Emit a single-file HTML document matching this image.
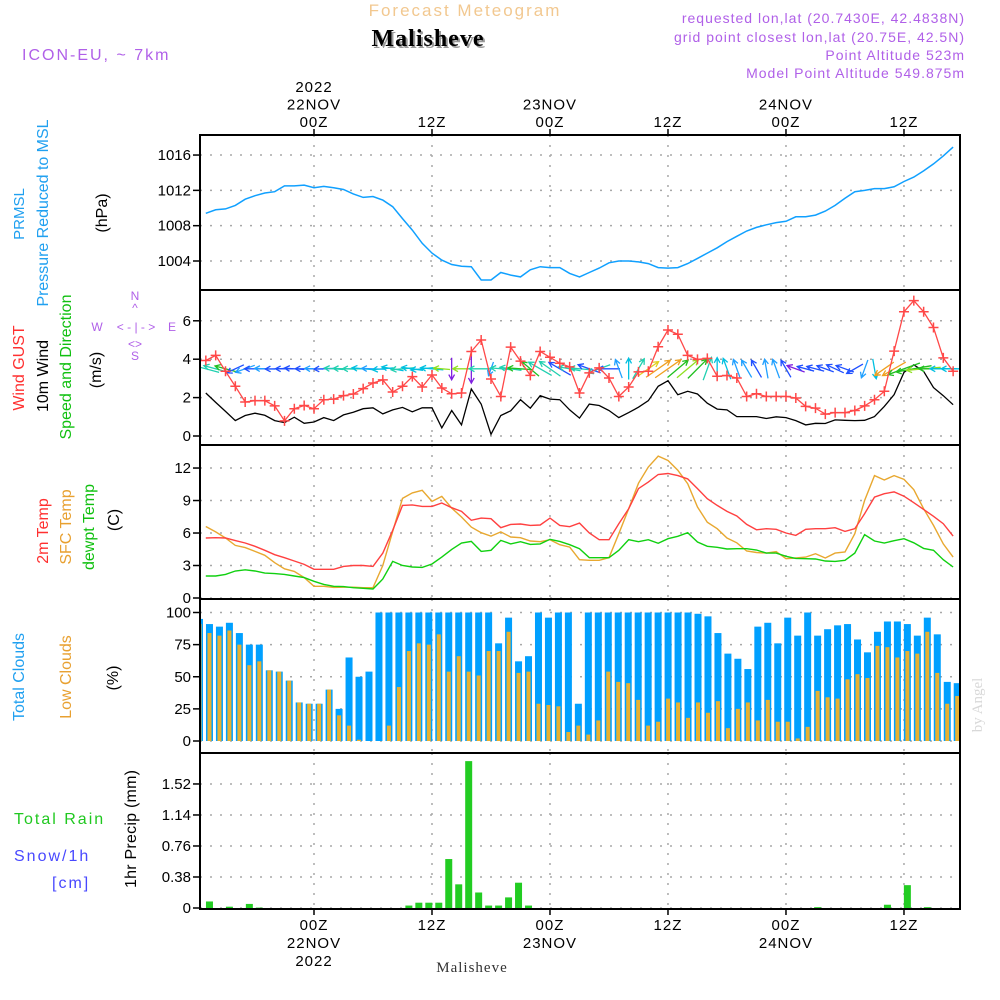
<!DOCTYPE html>
<html><head><meta charset="utf-8"><title>Meteogram Malisheve</title>
<style>
html,body{margin:0;padding:0;background:#fff;}
svg{display:block;font-family:"Liberation Sans",sans-serif;}
.t{font-size:15px;letter-spacing:1px;}
.tk{font-size:15px;fill:#000;}
</style></head>
<body>
<svg id="chart" width="1000" height="1000" viewBox="0 0 1000 1000" xmlns="http://www.w3.org/2000/svg">
<defs>
<clipPath id="clipP"><rect x="200" y="135" width="760" height="774"/></clipPath>
</defs>
<text x="465" y="16" text-anchor="middle" fill="#f2c890" font-size="17" letter-spacing="2">Forecast Meteogram</text>
<text x="430" y="48" text-anchor="middle" fill="#9a9a9a" font-family="Liberation Serif,serif" font-weight="bold" font-size="24" letter-spacing="1">Malisheve</text>
<text x="428" y="46" text-anchor="middle" fill="#000" font-family="Liberation Serif,serif" font-weight="bold" font-size="24" letter-spacing="1">Malisheve</text>
<text x="22" y="60" fill="#b060e8" font-size="16" letter-spacing="2">ICON-EU, ~ 7km</text>
<g fill="#b060e8" font-size="14" letter-spacing="1" text-anchor="end">
<text x="965" y="23">requested lon,lat (20.7430E, 42.4838N)</text>
<text x="965" y="42">grid point closest lon,lat (20.75E, 42.5N)</text>
<text x="965" y="60">Point Altitude 523m</text>
<text x="965" y="78">Model Point Altitude 549.875m</text>
</g>
<g font-size="16">
<text transform="translate(24,214) rotate(-90)" text-anchor="middle" fill="#20a0f0" font-size="15">PRMSL</text>
<text transform="translate(48,213) rotate(-90)" text-anchor="middle" fill="#20a0f0" textLength="187">Pressure Reduced to MSL</text>
<text transform="translate(107,213) rotate(-90)" text-anchor="middle" fill="#000">(hPa)</text>
<text transform="translate(24,368) rotate(-90)" text-anchor="middle" fill="#ff3030">Wind GUST</text>
<text transform="translate(48,376) rotate(-90)" text-anchor="middle" fill="#000">10m Wind</text>
<text transform="translate(71,367) rotate(-90)" text-anchor="middle" fill="#10c010" textLength="145">Speed and Direction</text>
<text transform="translate(101,370) rotate(-90)" text-anchor="middle" fill="#000">(m/s)</text>
<text transform="translate(48,531) rotate(-90)" text-anchor="middle" fill="#ff3030">2m Temp</text>
<text transform="translate(71,527) rotate(-90)" text-anchor="middle" fill="#e8a030">SFC Temp</text>
<text transform="translate(94,527) rotate(-90)" text-anchor="middle" fill="#10c010">dewpt Temp</text>
<text transform="translate(119,520) rotate(-90)" text-anchor="middle" fill="#000">(C)</text>
<text transform="translate(24,677) rotate(-90)" text-anchor="middle" fill="#20a0f0">Total Clouds</text>
<text transform="translate(71,677) rotate(-90)" text-anchor="middle" fill="#e8a030">Low Clouds</text>
<text transform="translate(118,678) rotate(-90)" text-anchor="middle" fill="#000">(%)</text>
<text transform="translate(136,829) rotate(-90)" text-anchor="middle" fill="#000" textLength="118">1hr Precip (mm)</text>
<text x="14" y="824" fill="#20c820" letter-spacing="2">Total   Rain</text>
<text x="14" y="861" fill="#4848ff" letter-spacing="2">Snow/1h</text>
<text x="52" y="888" fill="#4848ff" letter-spacing="2">[cm]</text>
</g>
<g fill="#b060e8" font-size="12" text-anchor="middle">
<text x="135" y="300">N</text><text x="135" y="312">^</text>
<text x="97" y="331">W</text><text x="136" y="331">&lt; - | - &gt;</text><text x="172" y="331">E</text>
<text x="135" y="348">&lt;&gt;</text><text x="135" y="360">S</text>
</g>
<text transform="translate(982,705) rotate(-90)" text-anchor="middle" fill="#d8d8d8" font-family="Liberation Serif,serif" font-size="15">by Angel</text>
<text x="472" y="972" text-anchor="middle" fill="#333" font-family="Liberation Serif,serif" font-size="15" letter-spacing="1">Malisheve</text>
<g id="plot"></g>
</svg>
<script>
const startHour = -11;
const pressure = [1009.4,1009.8,1009.9,1010.3,1011.0,1011.4,1011.7,1011.85,1012.5,1012.5,1012.6,1012.3,1012.45,1012.3,1012.1,1011.6,1011.2,1011.3,1010.9,1010.15,1008.8,1007.5,1006.0,1004.9,1004.1,1003.6,1003.4,1003.35,1001.85,1001.85,1002.7,1002.4,1002.2,1003.0,1003.35,1003.25,1003.25,1002.6,1002.2,1002.7,1003.2,1003.8,1004.0,1004.0,1003.9,1003.7,1003.25,1003.2,1003.25,1003.7,1004.3,1004.9,1005.5,1006.2,1006.8,1007.4,1007.8,1008.1,1008.35,1008.5,1009.0,1009.0,1009.2,1009.65,1010.3,1011.1,1011.85,1012.0,1012.2,1012.2,1012.4,1013.0,1013.5,1014.2,1015.0,1015.9,1016.9];
const gust = [3.93,4.2,3.37,2.59,1.77,1.84,1.84,1.57,0.79,1.42,1.59,1.42,1.89,1.92,2.1,2.19,2.47,2.76,2.92,2.29,2.59,3.09,2.55,3.18,2.5,2.2,2.24,4.4,5.0,2.97,2.06,4.63,3.9,3.16,4.4,4.1,3.79,3.6,2.24,3.29,3.55,3.02,2.06,2.55,3.34,3.37,4.65,5.52,5.3,4.2,3.99,4.04,3.11,3.15,3.02,2.06,2.2,2.06,2.06,2.06,1.98,1.54,1.45,1.14,1.22,1.22,1.33,1.57,1.89,2.33,4.42,6.47,7.05,6.47,5.65,4.07,3.37];
const wind10 = [2.24,1.75,1.28,0.8,1.07,1.19,1.08,0.8,0.7,0.98,0.66,0.73,0.96,0.8,1.1,1.24,1.42,1.47,1.15,1.36,1.49,1.26,1.47,1.47,0.42,1.33,0.58,2.45,1.66,0.09,1.07,1.31,1.89,1.45,2.1,1.92,1.89,1.36,0.93,1.66,1.59,1.33,0.96,1.22,1.5,1.84,2.59,2.88,2.15,2.33,2.19,1.71,1.4,1.36,1.01,1.01,1.01,0.91,1.0,0.96,0.8,0.58,0.66,0.65,0.84,0.82,0.8,0.82,1.01,1.54,2.15,3.32,3.71,3.37,2.52,2.1,1.63];
const windDir = [165,165,165,205,200,180,178,182,180,176,180,178,182,176,178,180,175,178,185,170,185,172,186,175,175,270,180,270,180,250,175,172,176,140,150,145,150,170,175,160,200,180,110,90,60,35,35,35,40,40,45,70,90,110,110,120,120,100,110,120,160,165,165,160,155,160,210,250,280,215,210,200,190,185,180,180,180];
const windCol = ['#20d0b0','#20d0b0','#20c020','#2050ff','#20a0ff','#2050ff','#20a0ff','#2050ff','#2050ff','#2050ff','#2050ff','#20a0ff','#2050ff','#20d0b0','#20d0b0','#20d0b0','#00c0e0','#20a0ff','#00c0e0','#00c0e0','#20d0b0','#00c0e0','#00c0e0','#00c0e0','#90e020','#8020e0','#90e020','#8020e0','#20d0b0','#20a0ff','#20d0b0','#20d0b0','#20c020','#20c020','#20d0b0','#20d0b0','#2050ff','#20d0b0','#20d0b0','#2050ff','#20d0b0','#2050ff','#20a0ff','#00c0e0','#20d0b0','#e0d020','#f0a020','#f0a020','#20c020','#90e020','#20c020','#20d0b0','#00c0e0','#00c0e0','#20a0ff','#20a0ff','#2050ff','#20a0ff','#20a0ff','#2050ff','#8020e0','#2050ff','#2050ff','#2050ff','#2050ff','#2050ff','#2050ff','#20a0ff','#00c0e0','#f0a020','#f0a020','#20c020','#20c020','#90e020','#20c020','#00c0e0','#00c0e0'];
const temp2m = [5.54,5.57,5.54,5.3,5.08,4.77,4.4,4.0,3.72,3.42,3.1,2.65,2.65,2.65,2.92,3.0,3.0,2.92,4.15,6.25,8.55,8.6,8.46,8.46,8.77,8.34,8.0,7.17,7.38,7.32,6.49,6.8,6.83,6.7,6.74,7.38,6.7,6.58,6.92,6.0,5.38,5.38,6.86,8.25,10.1,10.7,11.4,11.5,11.3,11.0,10.1,9.17,8.55,8.0,7.57,6.8,6.3,6.4,6.34,6.0,5.78,6.34,6.4,6.4,6.49,6.15,6.4,7.78,9.32,9.63,9.8,9.4,8.8,8.18,7.54,6.86,5.72];
const tempSfc = [6.6,6.1,5.54,4.86,4.65,4.3,3.94,3.26,2.7,2.46,1.88,1.08,1.08,0.98,1.0,1.0,0.95,0.95,3.0,6.15,9.2,9.7,9.94,8.92,9.38,8.3,7.48,6.55,6.03,5.72,6.1,5.63,5.57,5.26,5.2,5.38,4.92,4.7,3.54,3.48,3.48,3.72,5.94,8.25,10.6,12.1,13.1,12.7,11.8,10.55,8.4,7.0,6.4,5.54,5.1,4.34,4.2,4.15,4.28,3.63,3.69,3.78,4.09,3.69,4.15,4.25,5.94,9.0,11.3,10.9,11.3,10.95,10.0,8.25,6.7,5.0,3.78];
const dewpt = [2.03,2.03,2.18,2.49,2.6,2.49,2.3,2.25,2.18,2.03,1.88,1.54,1.26,1.08,1.05,0.95,0.9,0.83,1.75,3.38,3.0,2.86,2.83,3.14,3.78,4.49,5.08,5.23,4.3,4.4,5.32,5.0,5.2,4.95,5.0,5.42,5.23,4.92,4.55,3.72,3.72,3.72,4.4,5.38,5.2,5.38,5.05,5.48,5.7,6.03,5.17,4.77,4.68,4.52,4.55,4.55,4.43,4.15,4.15,3.85,3.66,3.63,3.6,3.42,3.38,3.48,4.15,5.85,5.26,5.08,5.29,5.48,5.1,4.58,4.4,3.54,2.86];
const cloudTotal = [95,91,89,92,84,75,75,55,54,47,30,29,29,40,25,65,50,54,100,100,100,100,100,100,100,100,100,100,100,100,76,96,62,66,100,96,100,100,29,100,100,100,100,100,100,100,100,100,100,100,99,97,84,68,64,56,89,92,76,96,82,100,82,87,90,91,79,69,85,93,93,91,82,96,83,46,45];
const cloudLow = [91,84,82,86,75,59,62,55,54,47,30,29,29,40,20,12,1,0,0,12,42,70,76,75,83,54,66,54,51,70,70,85,53,54,29,28,27,7,12,5,16,54,46,45,32,12,15,33,30,18,30,22,31,10,25,30,16,32,15,15,2,11,39,34,33,48,52,49,74,73,65,70,68,85,53,29,35];
const precip = [0,0.08,0,0.016,0,0.05,0.005,0,0,0,0,0,0,0,0,0,0,0,0,0,0,0.03,0.065,0.065,0.065,0.6,0.29,1.8,0.19,0.03,0.03,0.13,0.31,0.03,0,0,0,0,0,0,0,0,0,0,0,0,0,0,0,0,0,0,0,0,0,0,0,0,0,0,0,0,0.01,0,0,0,0,0,0,0.04,0,0.28,0,0.01,0,0,0];
const pTicks = [1004,1008,1012,1016];
const wTicks = [0,2,4,6];
const tTicks = [0,3,6,9,12];
const cTicks = [0,25,50,75,100];
const rTicks = [0,0.38,0.76,1.14,1.52];
const timeTickHours = [0,12,24,36,48,60];
const topLabels = [['2022','22NOV','00Z'],['','','12Z'],['','23NOV','00Z'],['','','12Z'],['','24NOV','00Z'],['','','12Z']];
const botLabels = [['00Z','22NOV','2022'],['12Z','',''],['00Z','23NOV',''],['12Z','',''],['00Z','24NOV',''],['12Z','','']];

const NS = 'http://www.w3.org/2000/svg';
const X0 = 200, X1 = 960;
const xh = h => 314 + h * 9.833;
const xi = i => xh(startHour + i);
const xb = i => 199.5 + 9.97 * i;
const yP = v => 261 - (v - 1004) * 8.83;
const yW = v => 436 - v * 19.2;
const yT = v => 598 - v * 10.83;
const yC = v => 741 - v * 1.285;
const yR = v => 908 - v * 81.6;
const panels = [
  {name:'pressure', top:135, bot:290, ticks:pTicks, y:yP, fmt:v=>String(v)},
  {name:'wind', top:290, bot:445, ticks:wTicks, y:yW, fmt:v=>String(v)},
  {name:'temperature', top:445, bot:599, ticks:tTicks, y:yT, fmt:v=>String(v)},
  {name:'clouds', top:599, bot:753, ticks:cTicks, y:yC, fmt:v=>String(v)},
  {name:'precip', top:753, bot:909, ticks:rTicks, y:yR, fmt:v=>v===0?'0':v.toFixed(2)}
];
const root = document.getElementById('plot');
function el(tag, attrs, parent) {
  const e = document.createElementNS(NS, tag);
  for (const k in attrs) e.setAttribute(k, attrs[k]);
  (parent || root).appendChild(e);
  return e;
}
function ptsStr(arr, yf) { return arr.map((v, i) => xi(i).toFixed(1) + ',' + yf(v).toFixed(1)).join(' '); }

panels.forEach(p => {
  const g = el('g', {});
  
  
  p.ticks.forEach(t => {
    const yy = p.y(t);
    const gl = el('line', {x1:X0, x2:X1, y1:yy, y2:yy, stroke:'#a8a8a8', 'stroke-width':1.5, 'stroke-dasharray':'2 8'}, g);
    
    
    const tk = el('line', {x1:X0-7, x2:X0, y1:yy, y2:yy, stroke:'#000', 'stroke-width':1.5}, g);
    
    
    const tx = el('text', {x:X0-9, y:yy+5, 'text-anchor':'end', class:'tk'}, g);
    tx.textContent = p.fmt(t);
    
    
  });
  timeTickHours.forEach(h => {
    const vl = el('line', {x1:xh(h), x2:xh(h), y1:p.top, y2:p.bot, stroke:'#a8a8a8', 'stroke-width':1.5, 'stroke-dasharray':'2 8'}, g);
    
    
  });
});

timeTickHours.forEach((h, k) => {
  const x = xh(h);
  const t1 = el('line', {x1:x, x2:x, y1:129, y2:135, stroke:'#000', 'stroke-width':1.5});
  
  
  const t2 = el('line', {x1:x, x2:x, y1:909, y2:915, stroke:'#000', 'stroke-width':1.5});
  
  
  topLabels[k].forEach((s, r) => {
    if (!s) return;
    const t = el('text', {x:x, y:92 + r*17.5, 'text-anchor':'middle', class:'t', fill:'#000'});
    t.textContent = s;
    
    
  });
  botLabels[k].forEach((s, r) => {
    if (!s) return;
    const t = el('text', {x:x, y:930 + r*18, 'text-anchor':'middle', class:'t', fill:'#000'});
    t.textContent = s;
    
    
  });
});

const cg = el('g', {'clip-path':'url(#clipP)'});



const pl = el('polyline', {points:ptsStr(pressure, yP), fill:'none', stroke:'#10a0ff', 'stroke-width':1.5}, cg);



const wl = el('polyline', {points:ptsStr(wind10, yW), fill:'none', stroke:'#000', 'stroke-width':1.3}, cg);


windDir.forEach((d, i) => {
  const L = Math.min(36, 14 + 6 * wind10[i]);
  const a = d * Math.PI / 180;
  const dx = Math.cos(a) * L, dy = -Math.sin(a) * L;
  const cx = xi(i), cy = yW(3.5);
  const x1 = cx - dx/2, y1 = cy - dy/2, x2 = cx + dx/2, y2 = cy + dy/2;
  const ha = 6, b1 = a + Math.PI - 0.5, b2 = a + Math.PI + 0.5;
  const ar = el('path', {d:`M${x1},${y1}L${x2},${y2}M${x2+Math.cos(b1)*ha},${y2-Math.sin(b1)*ha}L${x2},${y2}L${x2+Math.cos(b2)*ha},${y2-Math.sin(b2)*ha}`, stroke:windCol[i], 'stroke-width':1.3, fill:'none'}, cg);
  
  
});
const gl = el('polyline', {points:ptsStr(gust, yW), fill:'none', stroke:'#ff4848', 'stroke-width':1.3}, cg);


gust.forEach((v, i) => {
  const x = xi(i), y = yW(v);
  const m = el('path', {d:`M${x-5},${y}H${x+5}M${x},${y-5}V${y+5}`, stroke:'#ff4848', 'stroke-width':1.5}, cg);
  
  
});

[[tempSfc,'#e8a830','sfc-temp-line'],[temp2m,'#ff4040','temp-2m-line'],[dewpt,'#10d010','dewpt-line']].forEach(s => {
  const l = el('polyline', {points:ptsStr(s[0], yT), fill:'none', stroke:s[1], 'stroke-width':1.4}, cg);
  
  
});

cloudTotal.forEach((v, i) => {
  const b = el('rect', {x:xb(i) - 3.5, y:yC(v), width:7, height:yC(0)-yC(v), fill:'#00a0ff'}, cg);
  
  
});
cloudLow.forEach((v, i) => {
  const b = el('rect', {x:xb(i) - 2, y:yC(v), width:4, height:yC(0)-yC(v), fill:'#e8b030'}, cg);
  
  
});

precip.forEach((v, i) => {
  if (v <= 0) return;
  const b = el('rect', {x:xb(i) - 3.5, y:yR(v), width:7, height:yR(0)-yR(v), fill:'#22cc22'}, cg);
  
  
});

panels.forEach(p => {
  const r = el('rect', {x:X0, y:p.top, width:X1-X0, height:p.bot-p.top, fill:'none', stroke:'#000', 'stroke-width':2});
  
  
});
</script>
</body></html>
